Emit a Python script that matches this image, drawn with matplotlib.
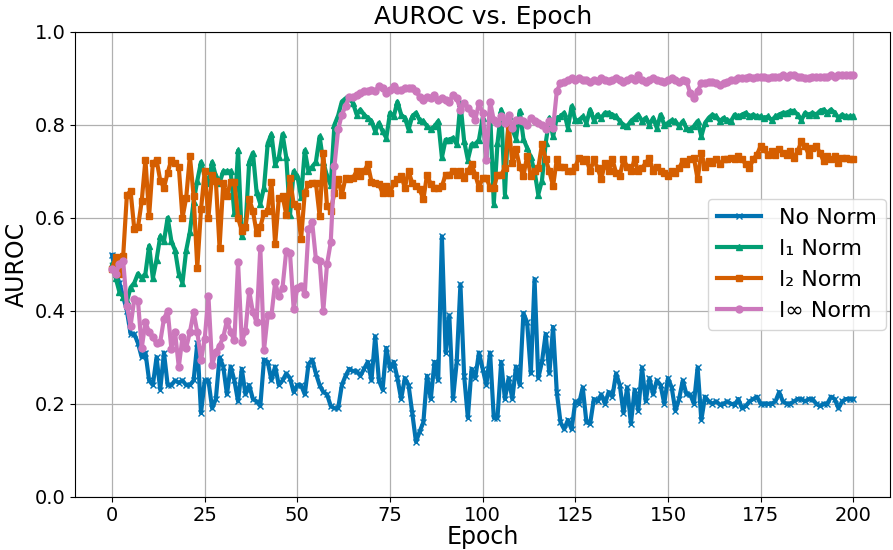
import numpy as np
import matplotlib
matplotlib.use("Agg")
import matplotlib.pyplot as plt

# Epochs of training
epochs = np.arange(0, 201)

# AUROC per epoch
no_norm = [0.52, 0.48, 0.46, 0.43, 0.40, 0.35, 0.35, 0.33, 0.30, 0.31,
           0.25, 0.24, 0.30, 0.23, 0.31, 0.24, 0.24, 0.25, 0.245, 0.25,
           0.24, 0.24, 0.25, 0.33, 0.18, 0.25, 0.25, 0.19, 0.21, 0.30,
           0.28, 0.22, 0.28, 0.25, 0.205, 0.275, 0.22, 0.24, 0.21, 0.205,
           0.195, 0.295, 0.29, 0.25, 0.28, 0.24, 0.25, 0.265, 0.255, 0.225,
           0.24, 0.24, 0.22, 0.285, 0.295, 0.265, 0.24, 0.225, 0.22, 0.195,
           0.19, 0.19, 0.24, 0.26, 0.275, 0.27, 0.27, 0.26, 0.275, 0.29,
           0.25, 0.345, 0.25, 0.23, 0.32, 0.275, 0.29, 0.255, 0.21, 0.255,
           0.24, 0.18, 0.118, 0.14, 0.16, 0.26, 0.21, 0.29, 0.25, 0.56,
           0.31, 0.39, 0.21, 0.29, 0.457, 0.26, 0.17, 0.275, 0.255, 0.31,
           0.275, 0.24, 0.31, 0.17, 0.17, 0.29, 0.21, 0.255, 0.21, 0.28,
           0.24, 0.395, 0.375, 0.265, 0.468, 0.255, 0.29, 0.35, 0.265, 0.365,
           0.225, 0.16, 0.145, 0.165, 0.145, 0.205, 0.2, 0.235, 0.16, 0.157,
           0.21, 0.205, 0.22, 0.2, 0.225, 0.215, 0.265, 0.24, 0.18, 0.235,
           0.157, 0.23, 0.185, 0.278, 0.205, 0.255, 0.22, 0.25, 0.24, 0.2,
           0.255, 0.235, 0.185, 0.21, 0.25, 0.22, 0.22, 0.2, 0.278, 0.165,
           0.215, 0.205, 0.2, 0.205, 0.198, 0.2, 0.205, 0.2, 0.198, 0.21,
           0.19, 0.195, 0.205, 0.21, 0.215, 0.20, 0.20, 0.20, 0.20, 0.205,
           0.225, 0.205, 0.20, 0.20, 0.205, 0.21, 0.21, 0.205, 0.21, 0.21,
           0.20, 0.195, 0.20, 0.20, 0.215, 0.21, 0.19, 0.205, 0.21, 0.21,
           0.21]

l1_norm = [0.50, 0.47, 0.44, 0.43, 0.42, 0.45, 0.46, 0.48, 0.47, 0.48,
           0.54, 0.47, 0.51, 0.56, 0.55, 0.60, 0.55, 0.53, 0.48, 0.46,
           0.53, 0.57, 0.635, 0.68, 0.72, 0.69, 0.675, 0.72, 0.69, 0.675,
           0.70, 0.70, 0.70, 0.61, 0.745, 0.56, 0.58, 0.72, 0.74, 0.655,
           0.63, 0.665, 0.76, 0.78, 0.715, 0.73, 0.78, 0.73, 0.605, 0.70,
           0.69, 0.645, 0.745, 0.70, 0.71, 0.72, 0.775, 0.72, 0.69, 0.67,
           0.80, 0.82, 0.85, 0.857, 0.857, 0.847, 0.822, 0.833, 0.822, 0.815,
           0.808, 0.786, 0.804, 0.786, 0.772, 0.826, 0.818, 0.85, 0.822, 0.815,
           0.79, 0.818, 0.826, 0.81, 0.808, 0.797, 0.79, 0.797, 0.808, 0.73,
           0.768, 0.768, 0.772, 0.758, 0.847, 0.765, 0.725, 0.758, 0.758, 0.768,
           0.815, 0.73, 0.83, 0.63, 0.76, 0.833, 0.65, 0.82, 0.79, 0.77,
           0.83, 0.77, 0.75, 0.73, 0.70, 0.65, 0.68, 0.76, 0.815, 0.775,
           0.815, 0.818, 0.826, 0.793, 0.84, 0.81, 0.81, 0.818, 0.804, 0.833,
           0.81, 0.822, 0.815, 0.826, 0.826, 0.822, 0.818, 0.808, 0.80, 0.797,
           0.808, 0.815, 0.822, 0.808, 0.815, 0.80, 0.815, 0.793, 0.822, 0.80,
           0.804, 0.81, 0.808, 0.797, 0.808, 0.793, 0.79, 0.797, 0.808, 0.775,
           0.804, 0.815, 0.822, 0.818, 0.808, 0.815, 0.81, 0.808, 0.822, 0.818,
           0.822, 0.826, 0.818, 0.822, 0.818, 0.818, 0.815, 0.818, 0.81, 0.818,
           0.822, 0.826, 0.826, 0.83, 0.83, 0.822, 0.81, 0.826, 0.822, 0.826,
           0.822, 0.83, 0.833, 0.826, 0.833, 0.826, 0.815, 0.822, 0.818, 0.818,
           0.818]

l2_norm = [0.49, 0.515, 0.48, 0.518, 0.65, 0.657, 0.575, 0.58, 0.636, 0.725,
           0.604, 0.718, 0.725, 0.68, 0.665, 0.697, 0.725, 0.718, 0.71, 0.60,
           0.643, 0.733, 0.647, 0.493, 0.618, 0.70, 0.60, 0.693, 0.68, 0.536,
           0.675, 0.647, 0.678, 0.678, 0.60, 0.572, 0.58, 0.64, 0.615, 0.568,
           0.58, 0.611, 0.615, 0.678, 0.543, 0.643, 0.647, 0.607, 0.686, 0.629,
           0.625, 0.554, 0.654, 0.672, 0.675, 0.675, 0.604, 0.74, 0.625, 0.615,
           0.654, 0.683, 0.65, 0.686, 0.683, 0.686, 0.70, 0.69, 0.70, 0.715,
           0.678, 0.675, 0.672, 0.654, 0.668, 0.654, 0.675, 0.683, 0.69, 0.665,
           0.70, 0.675, 0.668, 0.661, 0.64, 0.693, 0.672, 0.665, 0.665, 0.668,
           0.693, 0.693, 0.70, 0.693, 0.70, 0.686, 0.70, 0.715, 0.693, 0.665,
           0.686, 0.686, 0.665, 0.665, 0.693, 0.693, 0.707, 0.80, 0.718, 0.747,
           0.71, 0.69, 0.733, 0.69, 0.70, 0.707, 0.758, 0.726, 0.70, 0.668,
           0.726, 0.71, 0.71, 0.70, 0.70, 0.71, 0.729, 0.722, 0.726, 0.70,
           0.726, 0.707, 0.683, 0.718, 0.70, 0.726, 0.697, 0.69, 0.726, 0.71,
           0.70, 0.726, 0.70, 0.707, 0.718, 0.729, 0.70, 0.71, 0.70, 0.697,
           0.69, 0.70, 0.697, 0.707, 0.722, 0.715, 0.726, 0.729, 0.683, 0.74,
           0.71, 0.722, 0.718, 0.726, 0.715, 0.726, 0.726, 0.729, 0.726, 0.733,
           0.726, 0.715, 0.707, 0.726, 0.736, 0.754, 0.747, 0.736, 0.743, 0.736,
           0.747, 0.74, 0.736, 0.743, 0.729, 0.743, 0.765, 0.754, 0.736, 0.75,
           0.754, 0.74, 0.722, 0.733, 0.726, 0.733, 0.718, 0.729, 0.729, 0.726,
           0.726]

linf_norm = [0.49, 0.48, 0.50, 0.507, 0.41, 0.368, 0.425, 0.42, 0.32, 0.375,
             0.354, 0.343, 0.33, 0.333, 0.383, 0.40, 0.318, 0.354, 0.279, 0.343,
             0.32, 0.354, 0.397, 0.354, 0.293, 0.34, 0.432, 0.283, 0.311, 0.325,
             0.343, 0.379, 0.354, 0.336, 0.504, 0.333, 0.357, 0.443, 0.397, 0.375,
             0.536, 0.315, 0.39, 0.39, 0.461, 0.432, 0.45, 0.529, 0.525, 0.404,
             0.45, 0.454, 0.436, 0.575, 0.59, 0.511, 0.508, 0.40, 0.50, 0.547,
             0.711, 0.79, 0.822, 0.84, 0.861, 0.861, 0.865, 0.868, 0.872, 0.872,
             0.876, 0.872, 0.883, 0.879, 0.868, 0.876, 0.883, 0.876, 0.876, 0.879,
             0.879, 0.879, 0.872, 0.861, 0.854, 0.861, 0.857, 0.865, 0.854, 0.857,
             0.854, 0.85, 0.865, 0.857, 0.833, 0.847, 0.836, 0.826, 0.81, 0.847,
             0.826, 0.725, 0.85, 0.81, 0.804, 0.818, 0.804, 0.822, 0.793, 0.81,
             0.81, 0.808, 0.80, 0.815, 0.808, 0.804, 0.80, 0.79, 0.808, 0.793,
             0.872, 0.89, 0.893, 0.897, 0.90, 0.897, 0.90, 0.897, 0.897, 0.893,
             0.897, 0.895, 0.90, 0.897, 0.895, 0.897, 0.90, 0.897, 0.893, 0.897,
             0.90, 0.897, 0.907, 0.897, 0.893, 0.897, 0.90, 0.897, 0.895, 0.893,
             0.897, 0.90, 0.897, 0.893, 0.897, 0.895, 0.868, 0.857, 0.872, 0.89,
             0.89, 0.893, 0.893, 0.89, 0.886, 0.89, 0.893, 0.897, 0.897, 0.90,
             0.90, 0.90, 0.904, 0.90, 0.904, 0.904, 0.904, 0.90, 0.904, 0.904,
             0.904, 0.907, 0.904, 0.907, 0.907, 0.904, 0.904, 0.90, 0.90, 0.904,
             0.904, 0.904, 0.904, 0.904, 0.907, 0.904, 0.907, 0.907, 0.907, 0.907,
             0.907]

labels = ["No Norm", "l\u2081 Norm", "l\u2082 Norm", "l\u221e Norm"]
colors = ["#0173b2", "#029e73", "#d55e00", "#cc78bc"]
markers = ["x", "^", "s", "o"]
series = [no_norm, l1_norm, l2_norm, linf_norm]

fig, ax = plt.subplots(1, 1, figsize = (8.93, 5.5), dpi = 100)
fig.subplots_adjust(left = 0.084, right = 0.997, top = 0.942, bottom = 0.097)

for vals, lab, col, mk in zip(series, labels, colors, markers):
    ax.plot(epochs, vals, color = col, marker = mk, markersize = 5,
            linewidth = 3, label = lab)

ax.set_title("AUROC vs. Epoch", fontsize = 18)
ax.set_xlabel("Epoch", fontsize = 17, labelpad = 0)
ax.set_ylabel("AUROC", fontsize = 17)
ax.set_ylim(0.0, 1.0)
ax.set_xticks(np.arange(0, 201, 25))
ax.tick_params(labelsize = 14)
ax.grid(color = "#b0b0b0", linewidth = 0.9)
ax.set_axisbelow(True)
ax.legend(loc = "center right", fontsize = 16, borderaxespad = 0.2)

fig.savefig("out.png")
